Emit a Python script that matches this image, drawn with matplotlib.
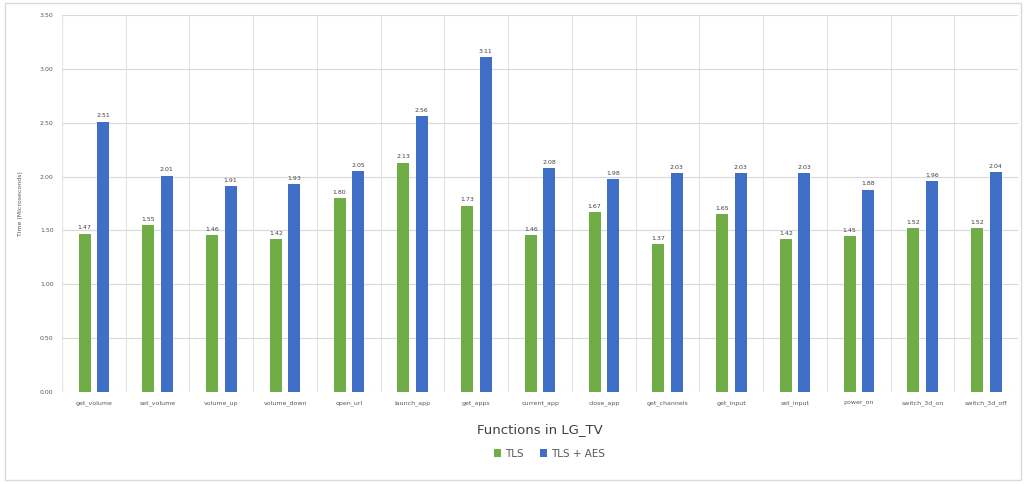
import numpy as np
import matplotlib
matplotlib.use("Agg")
import matplotlib.pyplot as plt
from matplotlib.patches import Rectangle

# functions measured on the LG TV
functions = ["get_volume", "set_volume", "volume_up", "volume_down", "open_url",
             "launch_app", "get_apps", "current_app", "close_app", "get_channels",
             "get_input", "set_input", "power_on", "switch_3d_on", "switch_3d_off"]
tls = [1.47, 1.55, 1.46, 1.42, 1.80, 2.13, 1.73, 1.46, 1.67, 1.37,
       1.65, 1.42, 1.45, 1.52, 1.52]
tls_aes = [2.51, 2.01, 1.91, 1.93, 2.05, 2.56, 3.11, 2.08, 1.98, 2.03,
           2.03, 2.03, 1.88, 1.96, 2.04]

green = "#70AD47"
blue = "#3F6FC6"

fig = plt.figure(figsize=(10.26, 4.84), dpi=100)
ax = fig.add_axes([0.0604, 0.190, 0.932, 0.779])

x = np.arange(len(functions))
w = 0.19
b1 = ax.bar(x - 0.145, tls, w, color=green, label="TLS", zorder=3)
b2 = ax.bar(x + 0.145, tls_aes, w, color=blue, label="TLS + AES", zorder=3)

for bars in (b1, b2):
    for r in bars:
        ax.text(r.get_x() + r.get_width() / 2, r.get_height() + 0.03,
                f"{r.get_height():.2f}", ha="center", va="bottom",
                fontsize=4.5, color="#404040")

ax.set_xlim(-0.5, len(functions) - 0.5)
ax.set_ylim(0, 3.5)
ax.set_yticks(np.arange(0, 3.51, 0.5))
ax.set_yticklabels([f"{v:.2f}" for v in np.arange(0, 3.51, 0.5)], fontsize=4.5, color="#595959")
ax.set_xticks(x)
ax.set_xticklabels(functions, fontsize=4.5, color="#595959")
ax.set_xticks(np.arange(-0.5, len(functions), 1), minor=True)
ax.tick_params(axis="both", which="both", length=0, pad=6)
ax.grid(axis="y", color="#D9D9D9", lw=0.8, zorder=0)
ax.grid(axis="x", which="minor", color="#E3E3E3", lw=0.8, zorder=0)
ax.grid(axis="x", which="major", visible=False)
ax.set_facecolor("white")
for s in ax.spines.values():
    s.set_visible(False)

ax.set_ylabel("Time (Microseconds)", fontsize=4.5, color="#595959", labelpad=12)
ax.set_xlabel("Functions in LG_TV", fontsize=9.5, color="#404040", labelpad=12)

ax.legend(loc="upper center", bbox_to_anchor=(0.51, -0.125), ncol=2, frameon=False,
          fontsize=7.5, handlelength=0.7, handleheight=0.7, columnspacing=1.5,
          handletextpad=0.4, labelcolor="#595959")

# chart area border
fig.patches.append(Rectangle((0.005, 0.008), 0.99, 0.985, transform=fig.transFigure,
                             fill=False, edgecolor="#D9D9D9", lw=1))

fig.savefig("out.png", dpi=100)
